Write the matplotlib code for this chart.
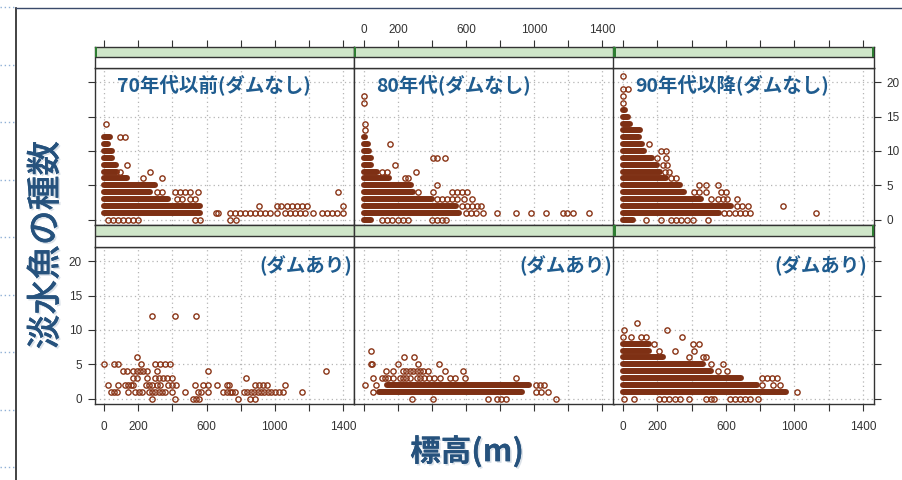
import matplotlib
matplotlib.use("Agg")
import matplotlib.pyplot as plt
from matplotlib.lines import Line2D
from matplotlib.patches import Rectangle
import matplotlib.patheffects as pe

plt.rcParams["font.family"] = ["Liberation Sans", "Noto Sans CJK JP", "DejaVu Sans"]

# labels
titles_top = ["70年代以前(ダムなし)", "80年代(ダムなし)", "90年代以降(ダムなし)"]
title_bottom = "(ダムあり)"
y_label = "淡水魚の種数"
x_label = "標高(m)"

x_ticks = [0, 200, 400, 600, 800, 1000, 1200, 1400]
x_ticklabels = ["0", "200", "", "600", "", "1000", "", "1400"]
y_ticks = [0, 5, 10, 15, 20]

# data: runs = rows of overlapping circles (species count, first / last elevation)
#       pts  = single circles (species count, elevations)

# 70年代以前(ダムなし)
a_runs = [(1, 0, 560), (2, 0, 560), (3, 0, 375), (4, 0, 270), (5, 0, 300),
          (6, 0, 135), (7, 0, 75), (8, 0, 70), (9, 0, 45), (10, 0, 45),
          (11, 0, 20), (12, 0, 35)]
a_pts = [
    (0, [23, 50, 80, 110, 140, 170, 200, 533, 562, 740, 775]),
    (1, [655, 670, 740, 765, 795, 825, 855, 885, 915, 945, 975, 1015, 1060,
         1090, 1120, 1150, 1180, 1225, 1275, 1305, 1335, 1365, 1400]),
    (2, [905, 1015, 1035, 1070, 1100, 1130, 1160, 1190, 1400]),
    (3, [428, 456, 504, 533]),
    (4, [310, 340, 416, 445, 475, 504, 551, 1372]),
    (6, [225, 340]),
    (7, [95, 270]),
    (8, [133]),
    (12, [90, 120]),
    (14, [12]),
]

# 80年代(ダムなし)
b_runs = [(0, 0, 45), (1, 0, 560), (2, 0, 540), (3, 0, 400), (4, 0, 290),
          (5, 0, 280), (6, 0, 150), (7, 0, 75), (8, 0, 45), (9, 0, 45),
          (10, 0, 30), (11, 0, 25), (12, 0, 10)]
b_pts = [
    (0, [105, 135, 165, 200, 230, 260, 400, 430, 460, 485]),
    (1, [600, 630, 660, 697, 779, 896, 984, 1072, 1166, 1195, 1230, 1324]),
    (2, [575, 605, 635, 665, 690]),
    (3, [430, 460, 490, 520, 550, 590, 633]),
    (4, [316, 404, 515, 545, 575, 603]),
    (5, [428]),
    (6, [240, 262]),
    (7, [105, 135, 305]),
    (8, [182]),
    (9, [404, 430, 474]),
    (11, [156]),
    (13, [5]),
    (14, [5]),
    (17, [0]),
    (18, [0]),
]

# 90年代以降(ダムなし)
c_runs = [(0, 0, 55), (1, 0, 562), (2, 0, 631), (3, 0, 455), (4, 0, 357),
          (5, 0, 330), (6, 0, 250), (7, 0, 215), (8, 0, 200), (9, 0, 170),
          (10, 0, 120), (11, 0, 110), (12, 0, 90), (13, 0, 100), (14, 0, 40),
          (15, 0, 25), (16, 0, 10)]
c_pts = [
    (0, [133, 220, 279, 308, 338, 375, 405, 494]),
    (1, [590, 620, 650, 680, 710, 738, 1125]),
    (2, [662, 695, 727, 931]),
    (3, [515, 551, 580, 609, 662]),
    (4, [416, 445, 486, 574, 603]),
    (5, [445, 486, 551]),
    (6, [280, 308]),
    (7, [245, 265]),
    (8, [230, 258]),
    (9, [200, 250]),
    (10, [220, 250]),
    (11, [152]),
    (17, [0]),
    (18, [0]),
    (19, [0, 25]),
    (21, [0]),
]

# 70年代以前(ダムあり)
d_runs = []
d_pts = [
    (0, [279, 416, 523, 540, 558, 786, 855, 885]),
    (1, [41, 58, 76, 139, 182, 202, 222, 260, 280, 300, 320, 340, 357, 400,
         474, 551, 568, 611, 695, 720, 735, 750, 767, 820, 840, 860, 880, 900,
         920, 940, 960, 980, 1000, 1025, 1050, 1158]),
    (2, [25, 78, 123, 140, 155, 170, 244, 260, 279, 310, 328, 377, 400, 422,
         533, 580, 611, 660, 723, 733, 885, 908, 931, 954, 1060]),
    (3, [170, 190, 250, 299, 320, 346, 370, 400, 830]),
    (4, [113, 134, 170, 190, 210, 230, 252, 310, 611, 1300]),
    (5, [0, 55, 78, 217, 299, 328, 357, 387]),
    (6, [191]),
    (12, [279, 416, 537]),
]

# 80年代(ダムあり)
e_runs = [(1, 88, 931), (2, 135, 972)]
e_pts = [
    (0, [281, 404, 726, 779, 806, 832, 1130]),
    (1, [53, 1013, 1040, 1083]),
    (2, [6, 70, 1013, 1036, 1060]),
    (3, [53, 107, 125, 145, 170, 211, 230, 250, 270, 310, 330, 355, 380, 410,
         445, 504, 533, 592, 896]),
    (4, [129, 170, 230, 250, 270, 290, 310, 330, 350, 375, 474, 580]),
    (5, [40, 51, 199, 316, 439]),
    (6, [234, 293]),
    (7, [45]),
]

# 90年代以降(ダムあり)
f_runs = [(1, 0, 950), (2, 0, 780), (3, 0, 690), (4, 0, 510), (5, 0, 468),
          (6, 0, 230), (7, 0, 150), (8, 0, 152)]
f_pts = [
    (0, [6, 64, 211, 240, 270, 300, 330, 387, 486, 510, 533, 621, 650, 680,
         710, 740, 785]),
    (1, [1013]),
    (2, [808, 873, 914]),
    (3, [808, 838, 867, 896]),
    (4, [551, 609]),
    (5, [515, 580]),
    (6, [387, 463, 486]),
    (7, [206, 305, 416]),
    (8, [182, 405, 440]),
    (9, [0, 45, 103, 133, 346]),
    (10, [6, 258]),
    (11, [80]),
]

brown = "#8a3517"
band = "#7e3014"
blue = "#1f5c8f"
edge = "#333333"

W, H = 903, 480
fig = plt.figure(figsize=(W / 100, H / 100), dpi=100)


def box(x0, y0, x1, y1):
    return [x0 / W, 1 - y1 / H, (x1 - x0) / W, (y1 - y0) / H]


col_x = [(94.5, 354), (354, 613.5), (613.5, 874)]
rows = [dict(strip=(47, 57, 68), panel=(68, 225)),
        dict(strip=(225, 236, 247), panel=(247, 404))]

data = [[(a_runs, a_pts), (b_runs, b_pts), (c_runs, c_pts)],
        [(d_runs, d_pts), (e_runs, e_pts), (f_runs, f_pts)]]

xlim = (-57, 1465)
ylim = (-0.8, 22.1)
title_x = [0.087, 0.085, 0.083]
bottom_x = [0.992, 0.994, 0.975]

for r, row in enumerate(rows):
    s0, s1, s2 = row["strip"]
    p0, p1 = row["panel"]
    for c, (x0, x1) in enumerate(col_x):
        ax = fig.add_axes(box(x0, p0, x1, p1))
        ax.set_xlim(*xlim)
        ax.set_ylim(*ylim)
        ax.set_xticks(x_ticks)
        ax.set_yticks(y_ticks)
        ax.grid(True, color="#b5b5b5", linestyle=(0, (1, 2.5)), linewidth=0.9)
        ax.set_axisbelow(True)
        for sp in ax.spines.values():
            sp.set_color(edge)
            sp.set_linewidth(1.0)

        runs, pts = data[r][c]
        for y, xa, xb in runs:
            ax.plot([xa, xb], [y, y], color=band, lw=4.3,
                    solid_capstyle="round", zorder=3)
        for y, xs in pts:
            ax.plot(xs, [y] * len(xs), "o", mfc="none", mec=brown,
                    ms=3.8, mew=1.0, zorder=4)

        # ticks, lattice style
        show_bottom = r == 1
        ax.tick_params(axis="x", which="both", direction="out", length=5,
                       width=0.8, color=edge, labelcolor="#333333",
                       labelsize=8.5, pad=7, top=False,
                       bottom=show_bottom, labelbottom=show_bottom and c != 1)
        if r == 1 and c != 1:
            ax.set_xticklabels(x_ticklabels)
        left = c == 0
        right = c == 2
        ax.tick_params(axis="y", direction="out", length=5, width=0.8,
                       color=edge, labelcolor="#333333", labelsize=8.5, pad=4,
                       left=left, labelleft=left and r == 1,
                       right=right, labelright=right and r == 0)

        if r == 0:
            ax.text(title_x[c], 0.885, titles_top[c], transform=ax.transAxes,
                    ha="left", va="center", fontsize=14, fontweight="bold",
                    color=blue, family=["Noto Sans CJK JP"])
        else:
            ax.text(bottom_x[c], 0.879, title_bottom, transform=ax.transAxes,
                    ha="right", va="center", fontsize=14, fontweight="bold",
                    color=blue, family=["Noto Sans CJK JP"])

        # strip
        st = fig.add_axes(box(x0, s0, x1, s2))
        st.set_xlim(*xlim)
        st.set_ylim(0, 1)
        split = (s2 - s1) / (s2 - s0)
        st.axhspan(split, 1, color="#cfe6c9", lw=0)
        st.axhline(split, color=edge, lw=1.0)
        for sp in st.spines.values():
            sp.set_color(edge)
            sp.set_linewidth(1.0)
        st.set_yticks([])
        st.set_xticks(x_ticks)
        st.tick_params(axis="x", direction="out", length=5, width=0.8,
                       color=edge, labelcolor="#333333", labelsize=8.5, pad=3,
                       bottom=False, labelbottom=False,
                       top=(r == 0), labeltop=(r == 0 and c == 1))
        if r == 0 and c == 1:
            st.set_xticklabels(x_ticklabels)
        dark_left = r == 0 or c == 2
        if dark_left:
            st.add_patch(Rectangle((0, split), 0.008, 1 - split,
                                   transform=st.transAxes, color="#2e7d32",
                                   lw=0, zorder=5))
        if c == 2:
            st.add_patch(Rectangle((0.992, split), 0.008, 1 - split,
                                   transform=st.transAxes, color="#2e7d32",
                                   lw=0, zorder=5))

# axis titles
shadow = [pe.withSimplePatchShadow(offset=(1.2, -1.2), shadow_rgbFace="#b7c4d2",
                                   alpha=0.5), pe.Normal()]
fig.text(46 / W, 1 - 245 / H, y_label, rotation=90, ha="center", va="center",
         fontsize=25, fontweight="medium", color="#26527d",
         family=["Noto Sans CJK JP"], path_effects=shadow)
fig.text(467 / W, 1 - 452 / H, x_label, ha="center", va="center",
         fontsize=22, fontweight="bold", color="#26527d",
         family=["Noto Sans CJK JP"], path_effects=shadow)

# slide frame and margin marks
fig.add_artist(Line2D([16 / W, 16 / W], [1 - 8 / H, 0], color="#222222",
                      lw=1.2, transform=fig.transFigure))
fig.add_artist(Line2D([16 / W, 1], [1 - 8 / H, 1 - 8 / H], color="#3a4a6a",
                      lw=1.0, transform=fig.transFigure))
for k in range(9):
    yy = 1 - (7 + 57.5 * k) / H
    fig.add_artist(Line2D([0, 14 / W], [yy, yy], color="#8fb0d6", lw=1.0,
                          linestyle=(0, (1, 2)), transform=fig.transFigure))

fig.savefig("out.png", dpi=100)
